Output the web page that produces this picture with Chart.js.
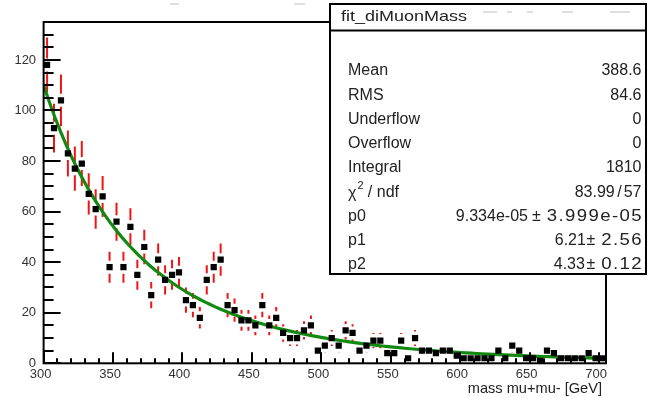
<!DOCTYPE html>
<html>
<head>
<meta charset="utf-8">
<script src="https://cdn.jsdelivr.net/npm/chart.js@4.4.1/dist/chart.umd.min.js"></script>
<style>
  html, body { margin: 0; padding: 0; background: #fff; }
  #wrap { width: 649px; height: 398px; position: relative; }
</style>
</head>
<body>
<div id="wrap"><canvas id="c" width="649" height="398"></canvas></div>
<script>
// Histogram bin centres (5 GeV bins from 300 to 705 GeV)
const binCentres = [
  302.5, 307.5, 312.5, 317.5, 322.5, 327.5, 332.5, 337.5, 342.5, 347.5,
  352.5, 357.5, 362.5, 367.5, 372.5, 377.5, 382.5, 387.5, 392.5, 397.5,
  402.5, 407.5, 412.5, 417.5, 422.5, 427.5, 432.5, 437.5, 442.5, 447.5,
  452.5, 457.5, 462.5, 467.5, 472.5, 477.5, 482.5, 487.5, 492.5, 497.5,
  502.5, 507.5, 512.5, 517.5, 522.5, 527.5, 532.5, 537.5, 542.5, 547.5,
  552.5, 557.5, 562.5, 567.5, 572.5, 577.5, 582.5, 587.5, 592.5, 597.5,
  602.5, 607.5, 612.5, 617.5, 622.5, 627.5, 632.5, 637.5, 642.5, 647.5,
  652.5, 657.5, 662.5, 667.5, 672.5, 677.5, 682.5, 687.5, 692.5, 697.5,
  702.5
];

// Entries per bin
const counts = [
  118, 93, 104, 83, 77, 79, 67, 61, 66, 38,
  56, 38, 54, 35, 46, 27, 41, 33, 35, 36,
  25, 23, 18, 33, 38, 41, 23, 21, 17, 17,
  15, 23, 15, 18, 12, 10, 10, 13, 15, 5,
  7, 10, 7, 13, 12, 5, 7, 9, 9, 4,
  4, 9, 2, 10, 5, 5, 4, 5, 5, 3,
  2, 2, 2, 2, 2, 5, 2, 7, 5, 2,
  2, 1, 5, 4, 2, 2, 2, 2, 4, 2,
  2
];

// Axis ranges and tick labels
const xRange = [300, 705];
const yRange = [0, 135];
const xTickLabels = [300, 350, 400, 450, 500, 550, 600, 650, 700];
const yTickLabels = [0, 20, 40, 60, 80, 100, 120];
const xMinorStep = 10;
const yMinorStep = 5;

// Dijet-style fit: p0 * (1 - m/sqrt(s))^p1 / (m/sqrt(s))^p2
const fitParams = [9.334e-05, 6.21, 4.33];
const fitSqrtS = 8000;
const fitRange = [300, 700];
const fitSamples = 100;

// Statistics box
const statsTitle = 'fit_diMuonMass';
const statLabels = ['Mean', 'RMS', 'Underflow', 'Overflow', 'Integral', 'CHI2', 'p0', 'p1', 'p2'];
const statValues = ['388.6', '84.6', '0', '0', '1810', ['83.99', '57'],
                    ['9.334e-05', '3.999e-05'], ['6.21', '2.56'], ['4.33', '0.12']];
const xAxisTitle = 'mass mu+mu- [GeV]';

const FONT = '"Liberation Sans", Arial, Helvetica, sans-serif';
const TEXT = '#222';

function fitFunc(m) {
  const x = m / fitSqrtS;
  return fitParams[0] * Math.pow(1 - x, fitParams[1]) / Math.pow(x, fitParams[2]);
}

const fitCurve = [];
for (let k = 0; k <= fitSamples; k++) {
  const m = fitRange[0] + (fitRange[1] - fitRange[0]) * k / fitSamples;
  fitCurve.push({ x: m, y: fitFunc(m) });
}

const points = [];
binCentres.forEach((c, i) => { if (counts[i] > 0) points.push({ x: c, y: counts[i] }); });

// Poisson error bars, with a gap around each marker
const errorBars = {
  id: 'errorBars',
  beforeDatasetsDraw(chart) {
    const { ctx, chartArea: a, scales: { x, y } } = chart;
    const gap = 6.5;
    ctx.save();
    ctx.beginPath();
    ctx.rect(a.left, a.top, a.right - a.left, a.bottom - a.top);
    ctx.clip();
    ctx.strokeStyle = '#f21414';
    ctx.lineWidth = 2;
    points.forEach(p => {
      const e = Math.sqrt(p.y);
      const px = x.getPixelForValue(p.x);
      const pc = y.getPixelForValue(p.y);
      const pt = y.getPixelForValue(p.y + e);
      const pb = y.getPixelForValue(p.y - e);
      ctx.beginPath();
      if (pc - gap > pt) { ctx.moveTo(px, pt); ctx.lineTo(px, pc - gap); }
      if (pb > pc + gap) { ctx.moveTo(px, pc + gap); ctx.lineTo(px, pb); }
      ctx.stroke();
    });
    ctx.restore();
  }
};

// wider-set text (slight stretch plus spacing), right edge at xr; returns its width
function drawWideRight(ctx, str, xr, yy, stretch, spacing) {
  const chars = [...str];
  const ws = chars.map(ch => ctx.measureText(ch).width * stretch);
  const total = ws.reduce((s, w) => s + w, 0) + spacing * (ws.length - 1);
  let xx = xr - total;
  ctx.textAlign = 'left';
  chars.forEach((ch, k) => {
    ctx.save();
    ctx.translate(xx, yy);
    ctx.scale(stretch, 1);
    ctx.fillText(ch, 0, 0);
    ctx.restore();
    xx += ws[k] + spacing;
  });
  return total;
}

// "a ± b" right-aligned at xr
function drawPm(ctx, parts, xr, yy, gapBefore, gapAfter) {
  const wb = drawWideRight(ctx, parts[1], xr, yy, 1.16, 1.4);
  ctx.textAlign = 'right';
  const wpm = ctx.measureText('\u00b1').width;
  const xpm = xr - wb - gapAfter;
  ctx.fillText('\u00b1', xpm, yy);
  ctx.fillText(parts[0], xpm - wpm - gapBefore, yy);
}

// Frame, inward tick marks, axis title and statistics box
const frameAndStats = {
  id: 'frameAndStats',
  afterDraw(chart) {
    const { ctx, chartArea: a, scales: { x, y } } = chart;
    ctx.save();
    ctx.strokeStyle = '#000';
    ctx.lineWidth = 2;
    ctx.strokeRect(a.left, a.top, a.right - a.left, a.bottom - a.top);

    // y ticks
    ctx.beginPath();
    for (let v = yRange[0]; v <= yRange[1] + 1e-9; v += yMinorStep) {
      const py = Math.round(y.getPixelForValue(v));
      const len = (v % 20 === 0) ? 17 : 10;
      ctx.moveTo(a.left, py);
      ctx.lineTo(a.left + len, py);
    }
    // x ticks
    for (let v = xRange[0]; v <= xRange[1] + 1e-9; v += xMinorStep) {
      const px = Math.round(x.getPixelForValue(v));
      const len = (v % 50 === 0) ? 11 : 5;
      ctx.moveTo(px, a.bottom);
      ctx.lineTo(px, a.bottom - len);
    }
    ctx.stroke();

    // axis title
    ctx.fillStyle = TEXT;
    ctx.font = '14.6px ' + FONT;
    ctx.textAlign = 'right';
    ctx.textBaseline = 'middle';
    ctx.fillText(xAxisTitle, a.right - 4, 389);

    // faint remains of the histogram title behind the box
    ctx.strokeStyle = '#d4d4d4';
    ctx.lineWidth = 1.5;
    ctx.beginPath();
    [[170, 179, 4], [294, 305, 4], [483, 497, 12], [507, 512, 12], [527, 533, 12], [562, 573, 12], [610, 630, 12]]
      .forEach(([x0, x1, yy]) => { ctx.moveTo(x0, yy); ctx.lineTo(x1, yy); });
    ctx.stroke();

    // statistics box
    const bx = 330, by = 4, bw = 316, bh = 270;
    ctx.fillStyle = '#fff';
    ctx.fillRect(bx, by + 10, bw, bh - 10);
    ctx.fillRect(bx, 22, bw, 8);
    ctx.strokeStyle = '#000';
    ctx.lineWidth = 2;
    ctx.strokeRect(bx, by, bw, bh);
    ctx.beginPath();
    ctx.moveTo(bx, 30.5);
    ctx.lineTo(bx + bw, 30.5);
    ctx.stroke();

    ctx.fillStyle = TEXT;
    ctx.textBaseline = 'middle';
    ctx.textAlign = 'left';
    // header title, slightly widened
    ctx.save();
    ctx.translate(341, 17);
    ctx.scale(1.2, 1);
    ctx.font = '15px ' + FONT;
    ctx.fillText(statsTitle, 0, 0);
    ctx.restore();

    ctx.font = '16px ' + FONT;
    const xr = 641.5;
    statLabels.forEach((lab, i) => {
      const ry = 71 + 24.25 * i;
      ctx.textAlign = 'left';
      if (lab === 'CHI2') {
        ctx.font = '16px ' + FONT;
        ctx.fillText('\u03c7', 348, ry + 1);
        const w = ctx.measureText('\u03c7').width;
        ctx.font = '11px ' + FONT;
        ctx.fillText('2', 348 + w + 1, ry - 6);
        ctx.font = '16px ' + FONT;
        ctx.fillText(' / ndf', 348 + w + 7, ry);
      } else {
        ctx.fillText(lab, 348, ry);
      }
      const val = statValues[i];
      if (i === 5) {
        // chi2 / ndf
        ctx.textAlign = 'right';
        ctx.fillText(val[1], xr, ry);
        const w1 = ctx.measureText(val[1]).width;
        const ws = ctx.measureText('/').width;
        ctx.fillText('/', xr - w1 - 2, ry);
        ctx.fillText(val[0], xr - w1 - 2 - ws - 2.5, ry);
      } else if (Array.isArray(val)) {
        const gb = i === 6 ? 4 : (i === 7 ? 0.5 : 1.5);
        drawPm(ctx, val, xr, ry, gb, 6);
      } else {
        ctx.textAlign = 'right';
        ctx.fillText(val, xr, ry);
      }
    });
    ctx.restore();
  }
};

new Chart(document.getElementById('c'), {
  data: {
    datasets: [
      {
        type: 'scatter',
        label: 'diMuonMass',
        data: points,
        pointStyle: 'rect',
        pointRadius: 4.4,
        pointHoverRadius: 4.4,
        backgroundColor: '#000',
        borderWidth: 0,
        order: 0
      },
      {
        type: 'line',
        label: 'fit',
        data: fitCurve,
        borderColor: '#128a12',
        borderWidth: 3.2,
        pointRadius: 0,
        tension: 0,
        fill: false,
        order: 1
      }
    ]
  },
  options: {
    responsive: false,
    animation: false,
    devicePixelRatio: 1,
    layout: { padding: { left: 0, top: 22, right: 43, bottom: 0 } },
    plugins: { legend: { display: false }, tooltip: { enabled: false }, title: { display: false } },
    scales: {
      x: {
        type: 'linear',
        min: xRange[0],
        max: xRange[1],
        grid: { display: false, drawTicks: false },
        border: { display: false },
        afterBuildTicks: s => { s.ticks = xTickLabels.map(v => ({ value: v })); },
        afterFit: s => { s.height = 34.7; },
        ticks: {
          autoSkip: false,
          maxRotation: 0,
          padding: 3,
          labelOffset: -3,
          color: '#333',
          font: { family: FONT, size: 13 }
        }
      },
      y: {
        type: 'linear',
        min: yRange[0],
        max: yRange[1],
        grid: { display: false, drawTicks: false },
        border: { display: false },
        afterBuildTicks: s => { s.ticks = yTickLabels.map(v => ({ value: v })); },
        afterFit: s => { s.width = 43.6; },
        ticks: {
          padding: 7.5,
          color: '#333',
          font: { family: FONT, size: 13 }
        }
      }
    }
  },
  plugins: [errorBars, frameAndStats]
});
</script>
</body>
</html>
